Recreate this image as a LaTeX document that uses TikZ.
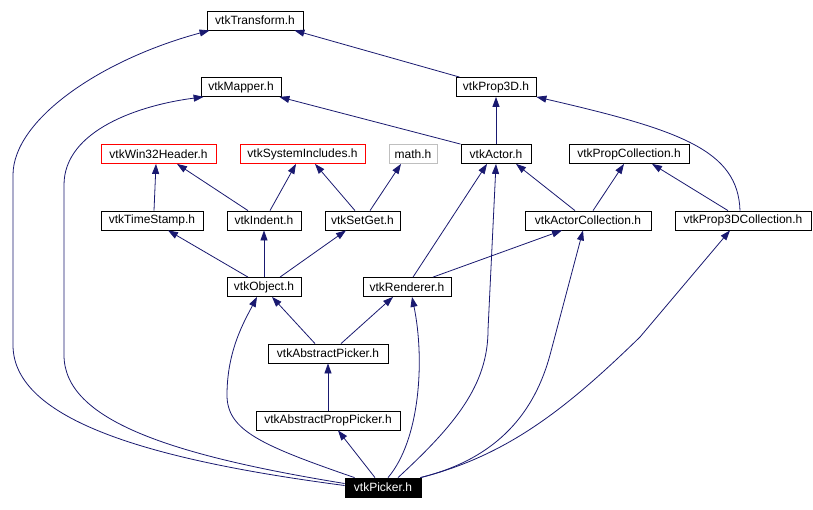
\documentclass[tikz,border=0pt]{standalone}
\usepackage{fontspec}
\setmainfont{Liberation Sans}
\usetikzlibrary{arrows.meta}
\definecolor{edgecol}{HTML}{191970}
\definecolor{grayb}{HTML}{BFBFBF}
\begin{document}
\begin{tikzpicture}[x=1pt,y=-1pt,
  hdr/.style={draw=black, line width=0.8pt, fill=white, inner sep=0pt, minimum height=19pt, font=\fontsize{12}{14}\selectfont},
  redhdr/.style={hdr, draw=red},
  grayhdr/.style={hdr, draw=grayb},
  mainhdr/.style={hdr, fill=black, text=white},
  edge/.style={draw=edgecol, line width=0.8pt, -{Triangle[length=10pt,width=7pt]}}]
\useasboundingbox[fill=white] (0,0) rectangle (813,509);

% nodes
\node[hdr, minimum width=96pt] (transform) at (255,20.5) {vtkTransform.h};
\node[hdr, minimum width=80pt] (mapper) at (241,87) {vtkMapper.h};
\node[hdr, minimum width=80pt] (prop3d) at (496,87) {vtkProp3D.h};
\node[redhdr, minimum width=115pt] (win32) at (158.5,154) {vtkWin32Header.h};
\node[redhdr, minimum width=125pt] (sysinc) at (302.5,154) {vtkSystemIncludes.h};
\node[grayhdr, minimum width=48pt] (math) at (413,154) {math.h};
\node[hdr, minimum width=70pt] (actor) at (496,154) {vtkActor.h};
\node[hdr, minimum width=120pt] (propcoll) at (629,154) {vtkPropCollection.h};
\node[hdr, minimum width=102pt] (timestamp) at (152,220.5) {vtkTimeStamp.h};
\node[hdr, minimum width=74pt] (indent) at (264,220.5) {vtkIndent.h};
\node[hdr, minimum width=75pt] (setget) at (362.5,220.5) {vtkSetGet.h};
\node[hdr, minimum width=126pt] (actorcoll) at (588,220.5) {vtkActorCollection.h};
\node[hdr, minimum width=136pt] (prop3dcoll) at (743,220.5) {vtkProp3DCollection.h};
\node[hdr, minimum width=74pt] (object) at (264,287) {vtkObject.h};
\node[hdr, minimum width=88pt] (renderer) at (407,287) {vtkRenderer.h};
\node[hdr, minimum width=120pt] (abspicker) at (328,353.5) {vtkAbstractPicker.h};
\node[hdr, minimum width=144pt] (abspp) at (328,420.5) {vtkAbstractPropPicker.h};
\node[mainhdr, minimum width=76pt] (picker) at (383,487.5) {vtkPicker.h};

% straight edges
\draw[edge] ([xshift=2pt]timestamp.north) -- ([xshift=-2.5pt]win32.south);
\draw[edge] ([xshift=-16pt]indent.north) -- ([xshift=18.5pt]win32.south);
\draw[edge] ([xshift=6pt]indent.north) -- ([xshift=-6.5pt]sysinc.south);
\draw[edge] ([xshift=-7.5pt]setget.north) -- ([xshift=12.5pt]sysinc.south);
\draw[edge] ([xshift=7.5pt]setget.north) -- ([xshift=-12pt]math.south);
\draw[edge] ([xshift=-16pt]object.north) -- ([xshift=16pt]timestamp.south);
\draw[edge] (object.north) -- (indent.south);
\draw[edge] ([xshift=16pt]object.north) -- ([xshift=-16.5pt]setget.south);
\draw[edge] ([xshift=-13pt]abspicker.north) -- ([xshift=8pt]object.south);
\draw[edge] ([xshift=13pt]abspicker.north) -- ([xshift=-14pt]renderer.south);
\draw[edge] (abspp.north) -- (abspicker.south);
\draw[edge] ([xshift=6pt]renderer.north) -- ([xshift=-9pt]actor.south);
\draw[edge] ([xshift=26pt]renderer.north) -- ([xshift=-26pt]actorcoll.south);
\draw[edge] ([xshift=-13pt]actorcoll.north) -- ([xshift=20pt]actor.south);
\draw[edge] ([xshift=5pt]actorcoll.north) -- ([xshift=-5pt]propcoll.south);
\draw[edge] ([xshift=-15pt]prop3dcoll.north) -- ([xshift=23pt]propcoll.south);
\draw[edge] (actor.north) -- (prop3d.south);
\draw[edge] (actor.north west) -- ([xshift=-2pt]mapper.south east);
\draw[edge] ([xshift=4pt]prop3d.north west) -- ([xshift=-9pt]transform.south east);
\draw[edge] ([xshift=-8pt]picker.north) -- ([xshift=10pt]abspp.south);

% curved edges
\draw[edge] ([yshift=2pt]picker.west) .. controls (150,460) and (13,420) .. (13,345)
  -- (13,175) .. controls (13,120) and (100,60) .. ([xshift=3pt]transform.south west);
\draw[edge] ([yshift=4pt]picker.west) .. controls (170,455) and (64,420) .. (64,355)
  -- (64,185) .. controls (64,130) and (140,105) .. ([xshift=3pt]mapper.south west);
\draw[edge] ([xshift=10pt]picker.north west) .. controls (260,445) and (227,430) .. (227,395)
  .. controls (227,350) and (245,320) .. ([xshift=-7pt]object.south);
\draw[edge] ([xshift=5pt]picker.north) .. controls (420,440) and (425,360) .. ([xshift=5pt]renderer.south);
\draw[edge] ([xshift=15pt]picker.north) .. controls (455,425) and (488,385) .. (488,330)
  -- (actor.south);
\draw[edge] ([xshift=-1pt]picker.north east) .. controls (500,458) and (535,410) .. (550,355)
  -- ([xshift=-5pt]actorcoll.south);
\draw[edge] ([xshift=-1pt]picker.north east) .. controls (510,455) and (570,405) .. (640,337)
  -- ([xshift=-13pt]prop3dcoll.south);
\draw[edge] ([xshift=-3pt]prop3dcoll.north) .. controls (738,150) and (680,130) .. (prop3d.south east);
\end{tikzpicture}
\end{document}
